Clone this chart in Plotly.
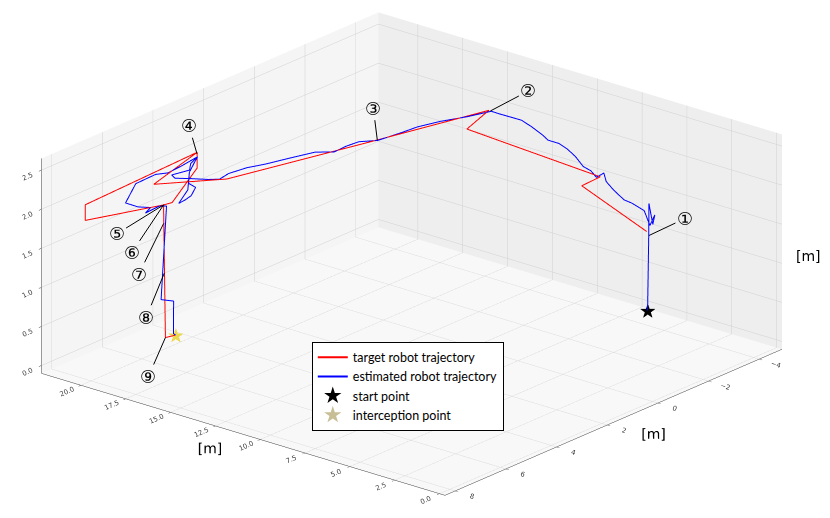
import plotly.graph_objects as go

# ---------------- data ----------------
target_x = [0.63, 6.23, 6.3, 14.3, 15.0, 16.5, 18.4, 20.4, 21.4, 21.1, 21.1, 19.7, 19.6, 21.4, 21.4, 21.4, 19.6, 19.7, 19.95, 19.8]
target_y = [-0.22, -1.62, -2.4, -2.8, -4.16, -0.57, 3.77, 5.24, 2.82, 7.45, 7.45, 5.35, 5.08, 2.82, 2.82, 2.82, 5.08, 5.35, 5.1, 4.8]
target_z = [2.0, 2.0, 2.0, 2.0, 2.0, 2.0, 2.0, 2.0, 2.0, 2.0, 1.8, 1.8, 1.8, 1.8, 2.0, 1.8, 1.8, 1.8, 0.05, 0.05]

est_x = [0.54, 0.52, 0.55, 0.97, 1.62, 0.99, 2.30, 3.26, 3.77, 4.84, 5.74, 6.47, 6.39, 7.06, 7.65,
         8.64, 9.50, 10.18, 10.79, 11.41, 12.34, 13.18, 13.82, 14.46, 14.85, 15.23, 15.75, 16.09,
         16.18, 16.37, 16.89, 16.97, 16.93, 17.54, 17.92, 18.26, 18.6, 18.76, 18.63, 18.98, 19.5,
         20.17, 20.52, 20.3, 20.76, 21.05, 20.73, 20.14, 19.34, 18.79, 19.5, 19.37, 19.32, 19.45,
         20.14, 20.73, 21.05, 20.88, 20.8, 21.09, 21.04, 21.1, 20.39, 19.93, 19.68, 19.75, 19.52,
         19.71, 19.31, 19.39, 19.8]
est_y = [-0.19, -0.22, -0.25, -0.70, -1.24, -0.60, -1.30, -1.50, -1.55, -1.90, -2.24, -2.66, -2.31,
         -2.57, -2.68, -3.08, -3.36, -3.52, -3.52, -3.72, -3.97, -4.16, -4.15, -4.14, -4.15, -3.46,
         -2.79, -2.11, -1.56, -0.74, -0.37, 0.09, 0.58, 0.90, 1.63, 2.34, 2.84, 3.45, 3.90, 4.10,
         4.29, 4.57, 4.45, 3.90, 3.53, 3.05, 3.40, 4.02, 4.62, 4.73, 4.4, 4.73, 5.02, 4.57, 4.02,
         3.40, 3.05, 3.81, 4.4, 4.68, 5.50, 5.86, 5.87, 5.70, 6.08, 5.49, 5.36, 5.44, 5.23, 5.18, 4.8]
est_z = [1.0, 1.95, 2.36, 2.0, 2.0, 2.0, 2.0, 2.0, 2.0, 2.0, 2.0, 2.0, 2.0, 2.0, 2.0,
         2.0, 2.0, 2.0, 2.0, 2.0, 2.0, 2.0, 2.0, 2.0, 2.0, 2.0, 2.0, 2.0,
         2.0, 2.0, 2.0, 2.0, 2.0, 2.0, 2.0, 2.0, 2.0, 2.0, 2.0, 2.0, 2.0,
         2.0, 2.0, 2.0, 2.0, 2.0, 2.0, 2.0, 2.0, 2.0, 1.8, 1.8, 1.8, 1.9,
         2.0, 2.0, 2.0, 2.0, 2.0, 2.0, 2.0, 1.8, 1.8, 1.8, 1.8, 1.8, 1.8,
         0.6, 0.58, 0.15, 0.05]

start_point = [0.54, -0.19, 1.0]
interception_point = [19.8, 4.8, 0.05]

label_text = ["①", "②", "③", "④", "⑤", "⑥", "⑦", "⑧", "⑨"]
label_x = [0.55, 14.9, 16.4, 21.3, 19.7, 19.7, 19.72, 19.83, 19.95]
label_y = [-0.25, -4.15, -0.75, 2.9, 5.35, 5.35, 5.33, 5.23, 5.1]
label_z = [1.95, 2.0, 2.0, 2.0, 1.8, 1.8, 1.56, 0.9, 0.05]
label_dx = [36, 38, -4, -8, -47, -32, -25, -18, -17]
label_dy = [-17, -20, -32, -28, 29, 48, 51, 44, 39]

x_ticks = [0, 2.5, 5, 7.5, 10, 12.5, 15, 17.5, 20]
x_ticklabels = ["0.0", "2.5", "5.0", "7.5", "10.0", "12.5", "15.0", "17.5", "20.0"]
y_ticks = [-4, -2, 0, 2, 4, 6, 8]
y_ticklabels = ["−4", "−2", "0", "2", "4", "6", "8"]
z_ticks = [0, 0.5, 1.0, 1.5, 2.0, 2.5]
z_ticklabels = ["0.0", "0.5", "1.0", "1.5", "2.0", "2.5"]

# ---------------- figure ----------------
fig = go.Figure()
fig.add_trace(go.Scatter3d(x=target_x, y=target_y, z=target_z, mode="lines",
                           line=dict(color="red", width=2), name="target robot trajectory"))
fig.add_trace(go.Scatter3d(x=est_x, y=est_y, z=est_z, mode="lines",
                           line=dict(color="blue", width=2), name="estimated robot trajectory"))
fig.add_trace(go.Scatter3d(x=[start_point[0]], y=[start_point[1]], z=[start_point[2]], mode="text",
                           text=["★"], textposition="middle center",
                           textfont=dict(size=20, color="black", family="DejaVu Sans"),
                           showlegend=False, hoverinfo="skip"))
fig.add_trace(go.Scatter3d(x=[interception_point[0]], y=[interception_point[1]], z=[interception_point[2]],
                           mode="text", text=["★"], textposition="middle center",
                           textfont=dict(size=20, color="rgba(200,180,40,0.85)", family="DejaVu Sans"),
                           showlegend=False, hoverinfo="skip"))
# legend entries for the star markers
fig.add_trace(go.Scatter(x=[None], y=[None], mode="markers", name="start point",
                         marker=dict(symbol="star", size=13, color="black")))
fig.add_trace(go.Scatter(x=[None], y=[None], mode="markers", name="interception point",
                         marker=dict(symbol="star", size=13, color="rgb(200,190,150)")))

annotations = []
for t, ax_, ay_, az_, dx, dy in zip(label_text, label_x, label_y, label_z, label_dx, label_dy):
    annotations.append(dict(x=ax_, y=ay_, z=az_, text=t, showarrow=True, arrowhead=0,
                            arrowwidth=1, arrowcolor="black", ax=dx, ay=dy,
                            font=dict(size=18, color="black", family="DejaVu Sans")))

axis_common = dict(showgrid=True, gridcolor="rgb(208,208,208)", gridwidth=1,
                   showbackground=True, zeroline=False, showline=True, linecolor="rgb(60,60,60)",
                   linewidth=1, ticks="outside", ticklen=4, tickcolor="rgb(60,60,60)",
                   tickfont=dict(size=9, color="rgb(60,60,60)", family="DejaVu Sans"),
                   showspikes=False)

fig.update_layout(
    width=830, height=518,
    margin=dict(l=0, r=0, t=0, b=0),
    paper_bgcolor="white", plot_bgcolor="white",
    font=dict(family="DejaVu Sans"),
    xaxis=dict(visible=False), yaxis=dict(visible=False),
    scene=dict(
        domain=dict(x=[0, 1], y=[0, 1]),
        xaxis=dict(range=[-0.3, 22.2], tickvals=x_ticks, ticktext=x_ticklabels,
                   title=dict(text="[m]", font=dict(size=14, color="black")),
                   backgroundcolor="rgb(245,245,245)", **axis_common),
        yaxis=dict(range=[-4.9, 8.4], tickvals=y_ticks, ticktext=y_ticklabels,
                   title=dict(text="[m]", font=dict(size=14, color="black")),
                   backgroundcolor="rgb(238,238,238)", **axis_common),
        zaxis=dict(range=[-0.1, 2.65], tickvals=z_ticks, ticktext=z_ticklabels,
                   title=dict(text=""),
                   backgroundcolor="rgb(248,248,248)", **axis_common),
        aspectmode="manual", aspectratio=dict(x=2.03, y=2.03, z=0.89),
        camera=dict(eye=dict(x=-0.8, y=0.89, z=0.41), center=dict(x=-0.0325, y=-0.029, z=-0.055),
                    up=dict(x=0, y=0, z=1), projection=dict(type="orthographic")),
        annotations=annotations,
    ),
    annotations=[dict(x=815 / 830, y=1 - 248 / 518, xref="paper", yref="paper", text="[m]",
                      showarrow=False, font=dict(size=14, color="black", family="DejaVu Sans"))],
    legend=dict(x=0.366, y=0.356, xanchor="left", yanchor="top", bgcolor="white",
                bordercolor="black", borderwidth=1, font=dict(size=12.5, family="Lato", color="black"),
                tracegroupgap=0, itemwidth=30),
    showlegend=True,
)

fig.write_html("out.html")
